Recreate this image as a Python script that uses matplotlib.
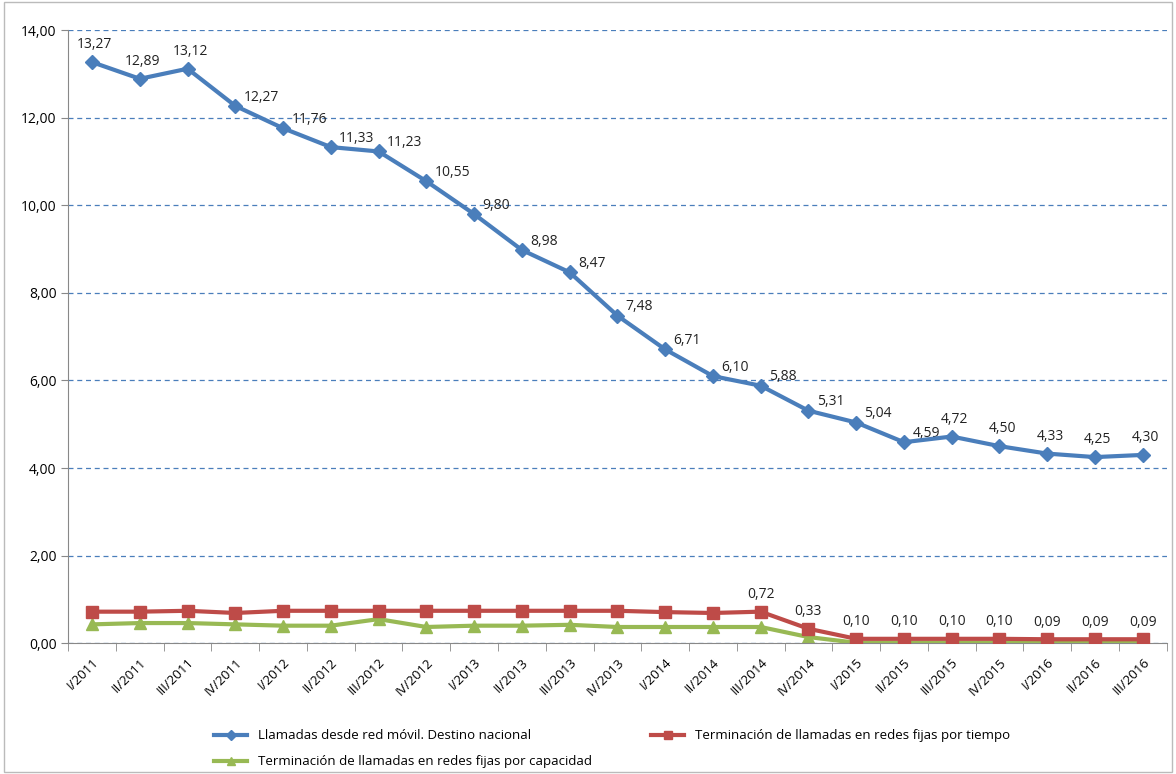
import numpy as np
import matplotlib
matplotlib.use("Agg")
import matplotlib.pyplot as plt
from matplotlib.ticker import FuncFormatter

plt.rcParams['font.family'] = ['Open Sans', 'DejaVu Sans']

periodos = ["I/2011", "II/2011", "III/2011", "IV/2011",
            "I/2012", "II/2012", "III/2012", "IV/2012",
            "I/2013", "II/2013", "III/2013", "IV/2013",
            "I/2014", "II/2014", "III/2014", "IV/2014",
            "I/2015", "II/2015", "III/2015", "IV/2015",
            "I/2016", "II/2016", "III/2016"]

movil = [13.27, 12.89, 13.12, 12.27, 11.76, 11.33, 11.23, 10.55, 9.80, 8.98, 8.47, 7.48,
         6.71, 6.10, 5.88, 5.31, 5.04, 4.59, 4.72, 4.50, 4.33, 4.25, 4.30]
fijo_tiempo = [0.72, 0.72, 0.74, 0.69, 0.74, 0.74, 0.74, 0.74, 0.74, 0.74, 0.74, 0.74,
               0.71, 0.69, 0.72, 0.33, 0.10, 0.10, 0.10, 0.10, 0.09, 0.09, 0.09]
fijo_capacidad = [0.43, 0.46, 0.46, 0.43, 0.40, 0.40, 0.55, 0.37, 0.40, 0.40, 0.42, 0.37,
                  0.37, 0.37, 0.37, 0.14, 0.01, 0.01, 0.01, 0.01, 0.01, 0.01, 0.01]

nombres = ["Llamadas desde red móvil. Destino nacional",
           "Terminación de llamadas en redes fijas por tiempo",
           "Terminación de llamadas en redes fijas por capacidad"]

azul = "#4a7ebb"
rojo = "#be4b48"
verde = "#98b954"

fig = plt.figure(figsize=(11.76, 7.74), dpi=100)
ax = fig.add_axes([0.058, 0.169, 0.934, 0.792])
x = np.arange(len(periodos))

l1, = ax.plot(x, movil, color=azul, lw=3, marker="D", ms=7, label=nombres[0], zorder=4)
l2, = ax.plot(x, fijo_tiempo, color=rojo, lw=3, marker="s", ms=8, label=nombres[1], zorder=3)
l3, = ax.plot(x, fijo_capacidad, color=verde, lw=3, marker="^", ms=8, label=nombres[2], zorder=2)

fmt = lambda v: f"{v:.2f}".replace(".", ",")

for i, v in enumerate(movil):
    if i <= 2 or i >= 18:
        ax.annotate(fmt(v), (i, v), xytext=(2, 7), textcoords="offset points",
                    ha="center", va="bottom", fontsize=10, color="#222222")
    else:
        ax.annotate(fmt(v), (i, v), xytext=(6, 1), textcoords="offset points",
                    ha="left", va="bottom", fontsize=10, color="#222222")

for i, v in enumerate(fijo_tiempo):
    if i >= 14:
        ax.annotate(fmt(v), (i, v), xytext=(0, 7), textcoords="offset points",
                    ha="center", va="bottom", fontsize=10, color="#222222")

ax.set_xlim(-0.5, len(periodos) - 0.5)
ax.set_ylim(0, 14)
ax.set_yticks(np.arange(0, 14.1, 2))
ax.yaxis.set_major_formatter(FuncFormatter(lambda v, p: fmt(v)))
ax.grid(axis="y", color=azul, ls=(0, (4, 3)), lw=0.9)
ax.set_axisbelow(True)

ax.set_xticks(x)
ax.set_xticklabels(periodos, rotation=45, ha="right", rotation_mode="anchor", fontsize=9.5)
ax.tick_params(axis="x", length=0, pad=9)
ax.set_xticks(np.arange(-0.5, len(periodos), 1), minor=True)
ax.tick_params(axis="x", which="minor", length=6, color="#888888", direction="out")
ax.tick_params(axis="y", length=5, color="#888888", labelsize=10)

for s in ["top", "right"]:
    ax.spines[s].set_visible(False)
ax.spines["left"].set_color("#888888")
ax.spines["bottom"].set_color("#888888")

# orden de filas como en el original: l1, l2 arriba y l3 debajo
fig.legend(handles=[l1, l3, l2], loc="lower left", bbox_to_anchor=(0.172, -0.008), ncol=2,
           frameon=False, fontsize=9.5, handlelength=2.5, columnspacing=4.5,
           labelspacing=1.0, markerscale=0.8)

fig.patches.append(plt.Rectangle((0.003, 0.003), 0.994, 0.994, transform=fig.transFigure,
                                 fill=False, edgecolor="#bbbbbb", lw=1))

plt.savefig("out.png", dpi=100)
